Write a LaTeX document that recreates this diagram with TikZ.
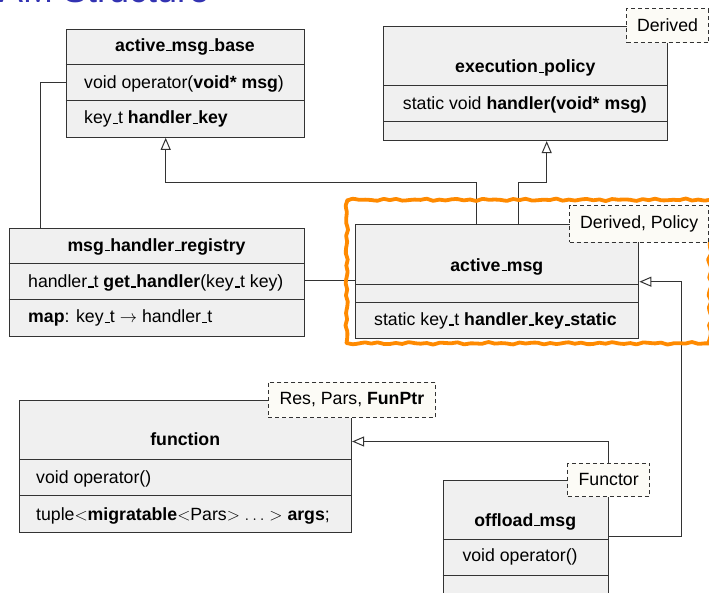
\documentclass[tikz,border=0pt]{standalone}
\usepackage{fontspec}
\setmainfont{Liberation Sans}
\usetikzlibrary{arrows.meta}
\definecolor{boxfill}{HTML}{F0F0F0}
\definecolor{edgecol}{HTML}{333333}
\definecolor{tagfill}{HTML}{FCFBF6}
\definecolor{titleblue}{RGB}{51,51,178}
\definecolor{hlorange}{HTML}{FF8A00}
\newcommand{\us}{\kern.06em\rule[-0.02em]{0.3em}{0.07em}}
\begin{document}
\begin{tikzpicture}[x=1pt,y=-1pt, font=\fontsize{17.7}{20}\selectfont,
  cls/.style={draw=edgecol, line width=1.1pt, fill=boxfill, anchor=north west, inner sep=0pt},
  tagbox/.style={draw=edgecol, dash pattern=on 4pt off 3pt, line width=1.0pt, fill=tagfill, anchor=north west, inner sep=0pt},
  txt/.style={anchor=base west, inner sep=0pt},
  ctxt/.style={anchor=base, inner sep=0pt},
  conn/.style={draw=edgecol, line width=1.0pt},
  inh/.style={conn, -{Triangle[open, length=12pt, width=10pt, fill=white]}},
  hl/.style={draw=hlorange, line width=3.8pt, line cap=round, line join=round}]
\useasboundingbox (0,0) rectangle (709,592);
\fill[white] (0,0) rectangle (709,592);

% title (cut off at top)
\node[anchor=base west, inner sep=0pt, text=titleblue, font=\fontsize{36}{40}\selectfont] (title) at (-1,2.6) {AM Structure};

% class boxes
\node[cls, minimum width=238.6pt, minimum height=108pt] (ab) at (65.7,28.7) {};
\node[cls, minimum width=284pt, minimum height=114.3pt] (ep) at (383.3,25.7) {};
\node[cls, minimum width=283pt, minimum height=114pt] (am) at (355.3,224.3) {};
\node[cls, minimum width=295.6pt, minimum height=108pt] (mhr) at (8.7,227.7) {};
\node[cls, minimum width=331.7pt, minimum height=132.3pt] (fn) at (19.3,400) {};
\node[cls, minimum width=165pt, minimum height=131pt] (om) at (442.7,480) {};

% compartment dividers
\draw[conn] (ab.west |- 0,64.3) -- (ab.east |- 0,64.3);
\draw[conn] (ab.west |- 0,100.3) -- (ab.east |- 0,100.3);
\draw[conn] (ep.west |- 0,85.7) -- (ep.east |- 0,85.7);
\draw[conn] (ep.west |- 0,121) -- (ep.east |- 0,121);
\draw[conn] (am.west |- 0,284) -- (am.east |- 0,284);
\draw[conn] (am.west |- 0,302.7) -- (am.east |- 0,302.7);
\draw[conn] (mhr.west |- 0,263.3) -- (mhr.east |- 0,263.3);
\draw[conn] (mhr.west |- 0,299.3) -- (mhr.east |- 0,299.3);
\draw[conn] (fn.west |- 0,459.3) -- (fn.east |- 0,459.3);
\draw[conn] (fn.west |- 0,495) -- (fn.east |- 0,495);
\draw[conn] (om.west |- 0,539) -- (om.east |- 0,539);
\draw[conn] (om.west |- 0,575) -- (om.east |- 0,575);

% texts
\node[ctxt] (abn) at (185,51) {\textbf{active\us msg\us base}};
\node[txt] (ab1) at (84,88.3) {void operator(\textbf{void* msg})};
\node[txt] (ab2) at (84,123.5) {key\us t \textbf{handler\us key}};

\node[ctxt] (epn) at (525.3,72.5) {\textbf{execution\us policy}};
\node[txt] (ep1) at (402.7,109) {static void \textbf{handler(void* msg)}};

\node[ctxt] (amn) at (496.8,271) {\textbf{active\us msg}};
\node[txt] (am1) at (374,325.3) {static key\us t \textbf{handler\us key\us static}};

\node[ctxt] (mhrn) at (156.5,251) {\textbf{msg\us handler\us registry}};
\node[txt] (mhr1) at (28,287.3) {handler\us t \textbf{get\us handler}(key\us t key)};
\node[txt] (mhr2) at (28,322.7) {\textbf{map}: key\us t $\rightarrow$ handler\us t};

\node[ctxt] (fnn) at (185.2,445.7) {\textbf{function}};
\node[txt] (fn1) at (36,483.3) {void operator()};
\node[txt] (fn2) at (36,520) {tuple$<$\textbf{migratable}$<$Pars$>\ldots>$ \textbf{args};};

\node[ctxt] (omn) at (525.2,526) {\textbf{offload\us msg}};
\node[txt] (om1) at (462.3,561) {void operator()};

% connectors
\draw[inh] (am.north -| 476,0) -- (476,182.3) -| (ab.south -| 165.7,0);
\draw[inh] (am.north -| 518.3,0) -- (518.3,182.3) -| (ep.south -| 546.7,0);
\draw[conn] (mhr.north -| 40.3,0) |- (ab.west |- 0,82.7);
\draw[conn] (mhr.east |- 0,280.7) -- (am.west |- 0,280.7);
\draw[inh] (om.east |- 0,536) -- (681.7,536) |- (am.east |- 0,281.7);
\draw[inh] (om.north east) |- (fn.east |- 0,441.5);

% highlight (hand-drawn look)
\draw[hl] plot[smooth, samples=60, domain=346.7:710.5, variable=\t]
  (\t, {199.8+0.8*sin(25*(\t-300))+0.5*sin(11*(\t-300))});
\draw[hl] plot[smooth, samples=60, domain=346.7:710.5, variable=\t]
  (\t, {343.3+0.8*sin(23*(\t-320))+0.5*sin(9*(\t-300))});
\draw[hl] plot[smooth, samples=25, domain=199.8:343.3, variable=\t]
  ({346.7+0.9*sin(24*(\t-150))+0.5*sin(10*(\t-150))}, \t);
\draw[hl] plot[smooth, samples=25, domain=199.8:343.3, variable=\t]
  ({710.2+1.6*sin(22*(\t-150))+0.6*sin(9*(\t-150))}, \t);

% template parameter tags
\node[tagbox, minimum width=82pt, minimum height=33.7pt] (eptag) at (626,8.3) {Derived};
\node[tagbox, minimum width=139.3pt, minimum height=36.7pt] (amtag) at (569,205) {Derived, Policy};
\node[tagbox, minimum width=167.3pt, minimum height=35.6pt] (fntag) at (267.7,381.7) {Res, Pars, \textbf{FunPtr}};
\node[tagbox, minimum width=81.7pt, minimum height=33.3pt] (omtag) at (567.3,462.7) {Functor};
\end{tikzpicture}
\end{document}
